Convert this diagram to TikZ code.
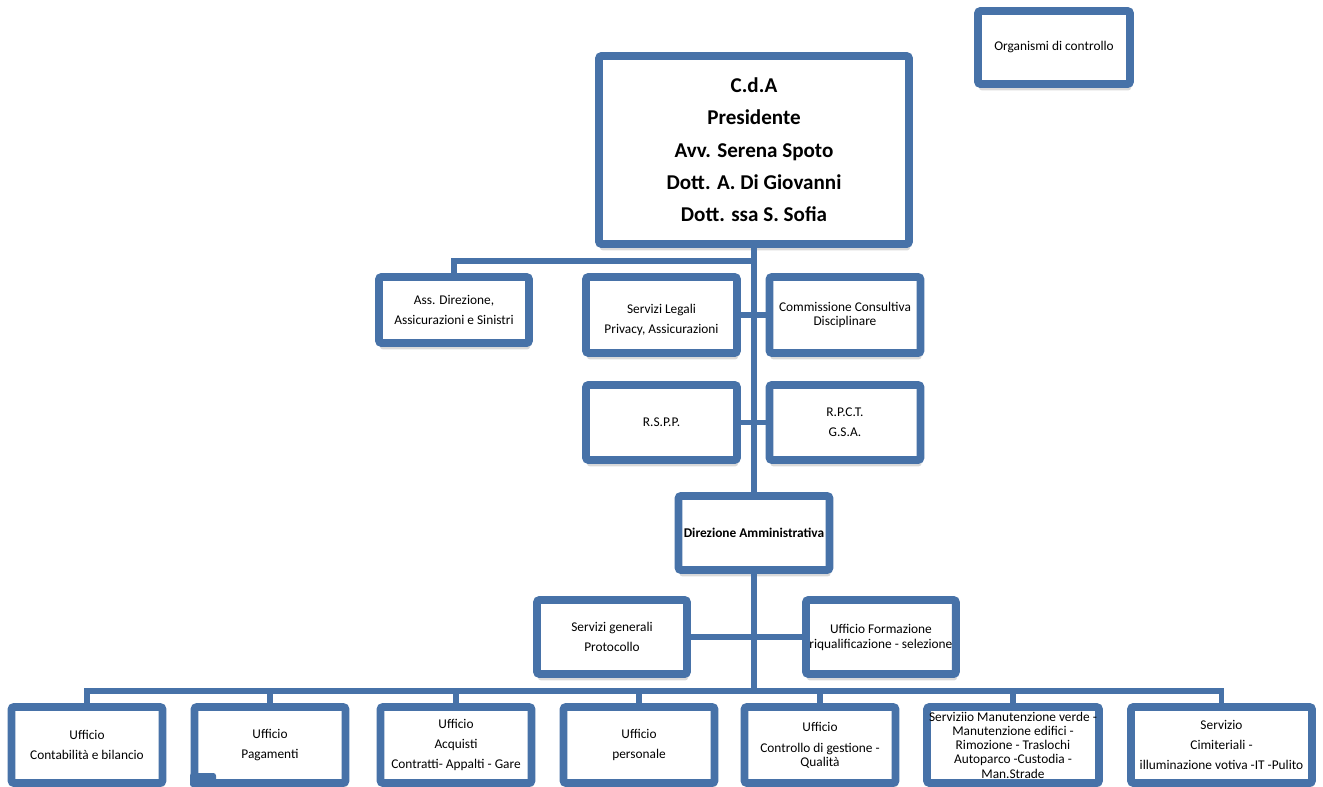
\documentclass[tikz,border=0pt]{standalone}
\usepackage{fontspec}
\setmainfont{Carlito}
\usetikzlibrary{shadows}
\definecolor{blu}{RGB}{71,114,168}

\begin{document}
\begin{tikzpicture}[x=0.02cm,y=-0.02cm,node distance=3.67cm,
  box/.style={draw=blu,line width=4.5pt,fill=white,rounded corners=1.5pt,inner sep=0pt,
    align=center,minimum width=3.02cm,minimum height=1.52cm,font=\fontsize{7.6}{11.3}\selectfont,
    drop shadow={shadow xshift=0.6pt,shadow yshift=-3.6pt,opacity=.3}},
  link/.style={draw=blu,line width=3.1pt},
  elbow/.style={to path={-| (\tikztotarget)}}]
  \useasboundingbox (0,0) rectangle (1323,787);

  \node[box,minimum width=3.04cm,minimum height=1.46cm] (org) at (1054,47.5) {Organismi di controllo};
  \node[box,minimum width=6.2cm,minimum height=3.76cm,font=\fontsize{12}{18.4}\selectfont\bfseries] (cda) at (754,150)
    {C.d.A\\Presidente\\Avv. Serena Spoto\\Dott. A. Di Giovanni\\Dott. ssa S. Sofia};
  \node[box,minimum width=3cm,minimum height=1.32cm] (ass) at (454,310) {Ass. Direzione,\\Assicurazioni e Sinistri};
  \node[box] (leg) at (661.5,315) {\mbox{}\\Servizi Legali\\Privacy, Assicurazioni};
  \node[box,font=\fontsize{7.6}{7.9}\selectfont] (com) [right of=leg] {Commissione Consultiva\\Disciplinare};
  \node[box,minimum height=1.5cm] (rspp) [below of=leg,node distance=2.15cm] {R.S.P.P.};
  \node[box,minimum height=1.5cm] (rpct) [right of=rspp] {R.P.C.T.\\G.S.A.};
  \node[box,minimum height=1.48cm,font=\fontsize{7.6}{11.3}\selectfont\bfseries] (dir) at (754,533) {Direzione Amministrativa};
  \node[box,minimum width=3cm,minimum height=1.48cm] (gen) at (612,637) {Servizi generali\\Protocollo};
  \node[box,minimum width=3cm,minimum height=1.48cm,font=\fontsize{7.6}{8.5}\selectfont] (form) [right of=gen,node distance=5.38cm]
    {Ufficio Formazione\\riqualificazione - selezione};

  \node[box] (u1) at (87,745) {Ufficio\\Contabilità e bilancio};
  \node[box] (u2) at (270,745) {Ufficio\\Pagamenti};
  \node[box] (u3) at (456,745) {Ufficio\\Acquisti\\Contratti- Appalti - Gare};
  \node[box] (u4) at (639,745) {Ufficio\\personale};
  \node[box,font=\fontsize{7.6}{8}\selectfont] (u5) at (820,745) {Ufficio\\[3.9pt]Controllo di gestione -\\Qualità};
  \node[box,minimum width=3.44cm,font=\fontsize{7.6}{8.1}\selectfont] (u6) at (1013,745)
    {Serviziio Manutenzione verde -\\Manutenzione edifici -\\Rimozione - Traslochi\\Autoparco -Custodia -\\Man.Strade};
  \node[box,minimum width=3.62cm] (u7) at (1221.5,745) {Servizio\\Cimiteriali -\\illuminazione votiva -IT -Pulito};
  \fill[blu,rounded corners=1.5pt] (190,773) rectangle (216,787);

  \coordinate (ta) at (754,261);
  \coordinate (bus) at (754,691);
  \path[link]
    (cda) edge (dir)
    (ta) edge[elbow] (ass)
    (leg) edge (com)
    (rspp) edge (rpct)
    (gen) edge (form)
    (dir) edge (bus)
    (bus) edge[elbow] (u1) edge[elbow] (u2) edge[elbow] (u3) edge[elbow] (u4)
      edge[elbow] (u5) edge[elbow] (u6) edge[elbow] (u7);
\end{tikzpicture}
\end{document}
